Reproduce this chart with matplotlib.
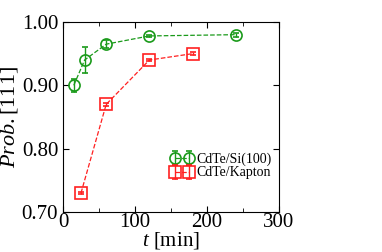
import numpy as np
import matplotlib
matplotlib.use("Agg")
import matplotlib.pyplot as plt
from matplotlib.ticker import MultipleLocator

plt.rcParams['font.family'] = ['Liberation Serif', 'DejaVu Serif']
plt.rcParams['mathtext.fontset'] = 'custom'
plt.rcParams['mathtext.it'] = 'Liberation Serif:italic'
plt.rcParams['mathtext.rm'] = 'Liberation Serif'

# CdTe/Si(100)
t_si = [15, 30, 60, 120, 240]
p_si = [0.900, 0.940, 0.965, 0.978, 0.980]
e_si = [0.010, 0.020, 0.006, 0.002, 0.003]

# CdTe/Kapton
t_kap = [25, 60, 120, 180]
p_kap = [0.730, 0.870, 0.940, 0.950]
e_kap = [0.002, 0.002, 0.002, 0.002]

fig = plt.figure(figsize=(3.82, 2.52), dpi=100)
ax = fig.add_axes([63/382, 1-212/252, (279-63)/382, (212-22)/252])

ax.errorbar(t_si, p_si, yerr=e_si, color='#1a9a1a', linestyle='--', linewidth=0.9,
            marker='o', markersize=8, markerfacecolor='none', markeredgewidth=1.2,
            capsize=2.5, elinewidth=1.0, label='CdTe/Si(100)')
ax.errorbar(t_kap, p_kap, yerr=e_kap, color='#ff2020', linestyle='--', linewidth=0.9,
            marker='s', markersize=8, markerfacecolor='none', markeredgewidth=1.2,
            capsize=2.5, elinewidth=1.0, label='CdTe/Kapton')

ax.set_xlim(0, 300)
ax.set_ylim(0.70, 1.00)
ax.xaxis.set_major_locator(MultipleLocator(100))
ax.xaxis.set_minor_locator(MultipleLocator(50))
ax.yaxis.set_major_locator(MultipleLocator(0.1))
ax.yaxis.set_major_formatter(plt.FormatStrFormatter('%.2f'))
ax.tick_params(which='both', direction='in', top=True, right=True, labelsize=15)
ax.tick_params(which='major', length=4)
ax.tick_params(which='minor', length=3)
ax.tick_params(axis='x', pad=1)

ax.set_xlabel('$t$ [min]', fontsize=15, labelpad=-2)
ax.set_ylabel('$Prob.$[111]', fontsize=16, labelpad=1)

ax.legend(loc='lower right', bbox_to_anchor=(1.01, 0.12), numpoints=2, frameon=False,
          fontsize=10, handlelength=1.6, handletextpad=0.2, borderpad=0.2,
          labelspacing=0.05)

fig.savefig('out.png', dpi=100)
